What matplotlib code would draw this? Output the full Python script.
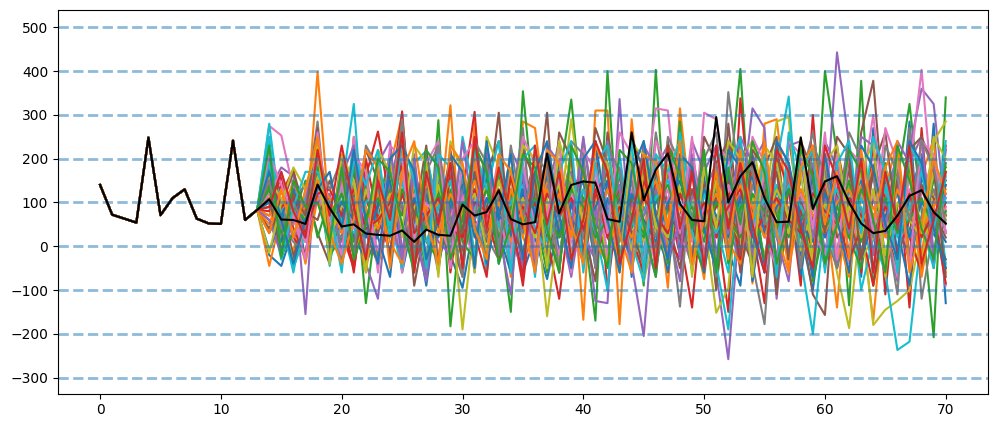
import matplotlib
matplotlib.use('Agg')
import matplotlib.pyplot as plt

# observed history, months 0-13, shared by every simulated path
history = [140, 72, 63, 54, 248, 71, 110, 130, 63, 52, 51, 241, 60, 83]

# mean-ish reference path, months 14-70
reference = [107, 61, 60, 51, 141, 87,
             45, 50, 29, 26, 24, 36, 10, 38, 26, 24,
             95, 70, 78, 127, 62, 50, 55, 212, 75, 140,
             148, 145, 62, 56, 260, 105, 175, 212, 97, 60,
             57, 295, 100, 160, 192, 110, 55, 56, 248, 85,
             148, 160, 100, 52, 30, 35, 70, 115, 128, 78, 52]

# simulated paths, months 14-70
sim_00 = [-20, -45, 40, -30, 180, -15,
          60, 120, -40, 30, 150, -60, 70, -90, 110, -20,
          -95, 60, 180, -40, 130, -60, 20, -75, 60, 210,
          -30, 90, -20, 170, -70, 240, 30, -40, 120, 60,
          -55, 160, -10, -90, 210, 80, -60, 150, 30, -100,
          120, -30, 200, -70, 270, 90, -20, 285, -60, 280, -130]
sim_01 = [-45, 70, 150, 30, 398, 60,
          -25, 250, 90, -40, 180, 300, -10, 110, 40, 322,
          -60, 280, 30, 120, -70, 285, 270, 60, -50, 190,
          -168, 310, 310, -178, 290, 20, 140, -95, 315, 60,
          -75, 190, 20, 230, -85, 280, 290, 70, -10, 150,
          90, -140, 200, 60, -170, 130, 240, -20, 160, 245, -60]
sim_02 = [240, -10, 110, -30, 220, 40,
          -35, 170, -130, 90, 210, -50, 130, -70, 288, -183,
          100, -30, 230, 60, -150, 354, 70, -60, 150, 335,
          60, -170, 400, -30, 120, -90, 403, -30, 285, -60,
          140, -90, 120, 405, -20, 180, -90, 60, 230, -40,
          400, 210, -135, 378, -90, 60, 150, 325, 80, -208, 340]
sim_03 = [190, 120, 175, 40, 140, -20,
          90, -60, 160, 262, 100, 308, -40, 60, 200, -60,
          120, 307, -50, 180, 70, -90, 160, 20, -120, 110,
          -40, 240, -100, 130, 60, 230, -60, 180, 20, -140,
          150, 60, -150, 338, 40, -130, 210, 130, -90, 300,
          -40, 225, 90, -60, 240, -110, 180, -140, 270, -50, 230]
sim_04 = [130, 180, 160, -155, 250, 60,
          10, 190, -40, -120, 160, 240, 30, -80, 170, -30,
          150, -60, 220, 30, -110, 180, -30, 140, 60, -70,
          100, -125, -130, 336, -40, -205, 130, 50, -80, 210,
          70, -60, -258, 80, 315, 270, -120, 160, -40, 190,
          60, 443, 230, -30, 180, 40, -80, 220, 360, 325, 70]
sim_05 = [180, 60, -20, 130, 30, -40,
          195, 100, -50, 170, 40, 210, -90, 60, 150, 20,
          -70, 200, 80, 305, -30, 130, 60, 305, -60, 190,
          40, -80, 260, 100, -60, 220, -20, 240, 90, -50,
          170, -100, 280, 30, -40, 150, -110, 250, 60, -110,
          -157, 230, -30, 260, 378, 40, -50, 120, -60, 210, 30]
sim_06 = [275, 253, 130, 30, 190, 70,
          -45, 250, 110, 30, 180, -60, 120, 40, 210, 20,
          70, -50, 190, 100, 30, 250, -20, 170, 200, 20,
          30, -30, 140, 80, -60, 120, 315, 310, 40, -30,
          305, 290, 90, -40, 180, -60, 40, 190, -20, 150,
          80, 210, -30, 120, 300, 40, -70, 170, 403, 90, -90]
sim_07 = [210, 20, -30, 90, 285, 10,
          205, 140, 60, -20, 100, 180, -50, 70, -60, 190,
          20, 220, -30, 180, 80, 270, -60, 120, 240, -30,
          245, 70, -40, 170, 30, -20, 260, 90, -138, 190,
          80, -70, 352, 130, -40, -178, 210, 40, 150, 260,
          90, -50, 190, -20, 130, 60, -110, 270, -120, 40, 140]
sim_08 = [160, -5, 90, 20, 255, -30,
          130, 40, 190, -50, 90, 280, -20, 140, 60, 110,
          -190, 70, 240, -30, 180, 20, 120, -160, 60, 290,
          90, -30, 230, 60, 170, -80, 40, -10, 180, -50,
          60, -152, -95, 200, 240, 90, 285, 295, -20, 70,
          90, -60, -187, 70, -180, -145, -125, -100, 30, 240, 285]
sim_09 = [280, 60, -60, 90, 210, -45,
          130, 325, -30, 170, 60, -50, 190, 218, 60, -20,
          250, 120, -60, 170, 30, 160, -70, 200, 100, -20,
          80, 40, -100, 210, 10, -80, 120, -30, 260, 90,
          20, -40, -190, 110, 180, -60, 190, 342, -30, -200,
          60, -40, 140, -100, 20, -60, -237, -218, 30, 170, -40]
sim_10 = [60, 10, 130, -35, 170, 40,
          -40, 90, 150, 20, -70, 180, 60, -20, 130, 50,
          100, -40, 160, 30, -60, 120, 70, 215, -20, 90,
          150, -50, 110, 40, -30, 190, 70, -60, 130, 20,
          170, -20, 60, 240, -80, 100, 30, 150, -65, 120,
          210, -50, 70, 130, -20, 180, 40, -90, 160, 60, 10]
sim_11 = [120, 40, -10, 110, 200, -20,
          150, 70, -60, 130, 40, 220, 10, 90, -30, 160,
          60, 190, -20, 80, 150, 20, -40, 130, 70, 200,
          -10, 110, 170, -50, 90, 30, 210, -20, 120, 60,
          -30, 140, 80, 190, -60, 120, 30, 170, -40, 90,
          140, 30, -70, 110, 180, -50, 60, 130, -20, 170, 80]
sim_12 = [100, -30, 70, 150, 20, 110,
          -20, 60, 140, -40, 120, 30, 180, -50, 90, 150,
          10, -30, 200, 70, 120, -20, 150, 40, 180, -40,
          110, 60, -20, 170, 40, 130, -50, 90, 210, 20,
          -60, 150, 60, 110, -30, 200, 70, 20, 130, -80,
          50, 160, 20, -50, 120, 190, -30, 90, 40, 150, 180]
sim_13 = [70, 140, 20, -20, 160, 90,
          30, -50, 120, 60, 190, -10, 100, 160, -40, 80,
          140, 30, -70, 210, 20, 90, 170, -30, 110, 60,
          200, -40, 80, 130, 20, -60, 160, 100, -20, 180,
          30, 90, 150, -50, 110, 40, 200, -30, 120, 70,
          -20, 130, 190, 40, -90, 100, 160, 20, -60, 120, 150]
sim_14 = [150, 30, 90, 10, 220, -10,
          80, 20, 170, -30, 60, 130, 20, -60, 150, 90,
          -30, 120, 60, 190, 10, -50, 100, 170, 30, -20,
          130, 70, 190, -40, 100, 30, -70, 180, 60, 120,
          -20, 170, 50, -40, 140, 90, 20, -80, 200, 30,
          110, -40, 70, 180, 20, -30, 140, 60, 210, -10, 60]
sim_15 = [40, 110, -25, 60, 130, 20,
          100, 170, 30, -40, 80, 200, -20, 120, 50, -30,
          160, 60, 10, 130, -50, 90, 200, 30, -20, 140,
          70, 180, 20, -30, 110, 160, -10, 60, -50, 130,
          90, 20, 170, -60, 80, 130, -30, 180, 40, 100,
          -50, 110, 170, 20, 70, -60, 150, 30, 190, 80, 20]
sim_16 = [90, -10, 50, 120, 230, 30,
          -10, 110, 60, 150, -30, 90, 30, 170, -20, 70,
          120, -10, 60, 190, 40, 110, -40, 70, 150, 10,
          -30, 130, 80, 20, 190, -20, 60, 130, 30, -40,
          180, 50, 100, -20, 150, 30, -50, 170, 90, 10,
          140, 60, -40, 120, 30, 170, 80, -40, 120, 200, 110]
sim_17 = [200, 50, 10, -15, 120, 60,
          -30, 150, 30, 90, 170, 40, -40, 100, 180, -10,
          90, 150, 20, -30, 110, 60, 170, -20, 40, 120,
          180, -10, 70, 140, -30, 90, 20, 170, 60, -50,
          120, 190, 30, 60, -40, 140, 90, -20, 110, 170,
          30, -50, 110, 70, 160, -20, 40, 120, 90, -30, 170]
sim_18 = [110, 80, -40, 40, 190, 10,
          60, -20, 130, 40, 200, 20, 90, -40, 170, 30,
          -20, 80, 140, 30, 160, -30, 60, 110, -40, 180,
          50, 120, -30, 90, 200, 10, 60, -40, 150, 110,
          20, -40, 130, 180, 60, -20, 110, 30, 170, -60,
          100, 40, 150, -30, 20, 180, 60, 110, -40, 130, 90]
sim_19 = [230, 90, -50, 30, 150, -30,
          50, 230, -10, 80, 30, 150, -30, 200, 90, 20,
          160, -20, 110, 50, -40, 170, 90, 10, 130, 60,
          -30, 190, 40, 110, -50, 70, 160, 20, 100, -20,
          130, 50, -60, 170, 90, 20, 140, -30, 60, 110,
          -40, 170, 30, 90, -60, 130, 200, 20, 50, -50, 160]
sim_20 = [-10, 60, 110, 10, 140, 70,
          120, 20, -30, 100, 170, -20, 60, 130, -50, 110,
          40, 160, -40, 90, 20, 150, 70, -30, 190, 30,
          100, -20, 150, 60, -30, 120, 40, 180, -10, 90,
          -60, 120, 170, 40, 90, -40, 130, 60, -20, 160,
          20, 90, 230, -30, 60, 150, -10, 110, 210, 30, -30]
sim_21 = [50, 130, 90, -40, 110, 30,
          170, -30, 70, 120, 10, -40, 150, 60, 100, -30,
          80, 210, 40, -10, 130, 50, -20, 160, 90, 30,
          170, 10, -40, 120, 70, 150, -20, 60, 190, -30,
          80, 140, 10, -40, 170, 60, 110, -50, 90, 40,
          180, -30, 70, 140, -20, 90, 50, 170, -70, 90, 130]
sim_22 = [140, -20, 30, 70, 240, -20,
          20, 180, 60, -20, 130, 70, 160, 10, -30, 130,
          -40, 100, 50, 170, -20, 80, 130, 30, -50, 160,
          110, 40, 180, -30, 60, 20, 130, -40, 190, 70,
          10, 170, -40, 90, 120, -30, 50, 190, 20, 110,
          -30, 60, 150, 10, 120, -40, 90, 180, 30, 60, -50]
sim_23 = [80, 160, 40, -20, 170, 100,
          40, -40, 200, 60, -10, 120, 30, 90, -40, 170,
          20, 130, 70, -30, 160, 40, 100, -20, 130, 60,
          -40, 120, 170, 30, -10, 150, 80, 20, -30, 170,
          70, 20, 120, -30, 200, 50, -40, 130, 80, -10,
          150, 70, -30, 40, 170, 110, -20, 60, 140, 30, 100]
sim_24 = [170, 100, 20, 60, 100, 120,
          -10, 70, 20, 140, 60, -30, 170, 80, 10, -20,
          130, 60, 170, 20, 90, -40, 150, 50, 110, 170,
          20, -30, 90, 180, 30, 70, 130, -30, 60, 110,
          190, -10, 50, 120, -20, 160, 30, 90, 50, 140,
          -10, 110, 40, 170, -20, 100, 50, -30, 180, 60, 120]
sim_25 = [30, 90, 170, 80, 60, 150,
          70, -20, 110, 30, 160, 90, -40, 40, 120, 60,
          -10, 170, 30, 110, 50, -20, 120, 190, 20, 70,
          -30, 150, 60, 110, 30, -40, 170, 90, 20, 130,
          50, 110, -20, 160, 30, 80, 170, -30, 100, 60,
          130, 20, 60, -30, 110, 170, 40, -20, 140, 110, 70]
sim_26 = [120, 170, 60, 10, 130, 40,
          140, 40, 80, -10, 110, 170, 20, 100, 60, -20,
          110, 30, 130, 70, -30, 190, 40, 90, -20, 120,
          70, 170, -20, 40, 130, 60, -40, 110, 170, 10,
          90, -30, 140, 60, 20, 170, -30, 80, 120, 30,
          -20, 150, 70, 30, 120, -40, 60, 130, 50, -20, 90]
sim_27 = [90, 50, 110, 140, 200, 50,
          20, 110, 50, 170, 30, 100, -20, 130, 70, 10,
          150, 50, -20, 120, 90, 30, 140, -30, 60, 150,
          20, 90, 130, 10, 150, -20, 80, 50, 110, 170,
          -20, 60, 110, 30, 140, 70, -30, 170, 40, 100,
          60, -10, 130, 80, 20, 110, 160, -20, 70, 130, 30]
sim_28 = [150, 110, 30, 70, 160, 20,
          90, 150, -10, 60, 120, 30, 80, -20, 140, 40,
          70, 120, -10, 150, 60, 110, 20, 90, 140, -20,
          60, 130, 30, 90, -10, 170, 60, 20, 130, 80,
          30, 150, 70, 10, 110, 50, 130, 70, -10, 90,
          160, 40, 90, 20, 130, -20, 100, 60, 20, 170, 60]
sim_29 = [190, 30, 80, 110, 180, 90,
          60, 30, 100, 130, 50, 200, 40, 10, 90, 150,
          30, 90, 170, 10, 100, 140, 40, -10, 100, 70,
          130, 20, 70, 170, 60, -10, 110, 150, 40, 70,
          120, 30, 90, 160, 50, 110, 20, 140, 90, 30,
          80, 130, 30, 110, 60, 140, 20, 90, 170, 40, 110]
sim_30 = [100, 70, 130, 40, 210, 50,
          100, 60, 20, 90, 150, 40, 110, 60, 20, 90,
          140, 20, 110, 70, 40, 130, 80, 160, 30, 100,
          40, 90, 150, 30, 120, 60, 10, 100, 150, 40,
          130, 70, 20, 110, 160, 30, 90, 130, 50, 10,
          120, 60, 100, 150, 30, 70, 120, 20, 100, 60, 140]
sim_31 = [70, 130, 50, 90, 150, 110,
          30, 130, 80, 40, 110, 170, 60, 90, 30, 120,
          60, 150, 40, 100, 10, 90, 140, 50, 120, 20,
          100, 50, 130, 80, 20, 100, 150, 40, 90, 20,
          70, 120, 50, 140, 90, 20, 110, 60, 130, 70,
          30, 100, 130, 60, 90, 20, 130, 70, 40, 90, 170]
sim_32 = [130, 30, 90, 60, 180, 70,
          120, 10, 70, 110, 30, 130, 80, 40, 120, 60,
          100, 60, 130, 20, 90, 50, 110, 70, 20, 130,
          90, 20, 60, 120, 70, 30, 100, 140, 60, 90,
          30, 100, 60, 20, 120, 80, 40, 130, 60, 100,
          40, 90, 20, 130, 70, 110, 30, 60, 110, 40, 80]
sim_33 = [150, 90, 110, 30, 120, 130,
          70, 130, 40, 60, 100, 190, 30, 70, 110, 40,
          20, 100, 80, 130, 50, 90, 30, 120, 70, 110,
          40, 130, 20, 90, 60, 110, 70, 30, 120, 50,
          100, 40, 90, 130, 20, 70, 110, 60, 30, 120,
          80, 50, 110, 70, 30, 90, 50, 120, 20, 80, -85]
sim_34 = [60, -20, 60, 100, 240, 30,
          160, 230, -30, 190, 240, -20, 210, -40, 230, 20,
          240, 60, 230, -20, 220, 160, -50, 230, 190, 40,
          250, 30, 240, 130, -40, 230, 180, 230, -30, 240,
          170, 230, 30, 250, 190, 240, -40, 230, 240, 20,
          240, 180, 30, 250, 230, 30, 240, 190, 250, -30, 220]
sim_35 = [110, -15, 120, 70, 270, -5,
          190, 60, 220, 150, -30, 260, 60, 230, -50, 220,
          30, 230, 170, 240, 40, 220, 150, -30, 260, 200,
          -20, 270, 190, 30, 250, 170, 40, 230, 180, -40,
          250, 190, 240, -20, 220, 180, 250, -30, 240, 170,
          30, 250, 210, -30, 180, 260, 40, 220, 250, 180, -70]
sim_36 = [210, 140, 70, -30, 260, 60,
          -20, 210, 170, -60, 230, 200, -40, 190, 240, -50,
          200, 240, 40, 210, -30, 250, 190, 60, 240, -60,
          220, 170, 30, 260, 210, -50, 240, 180, 30, 250,
          -50, 230, 200, 30, 250, 190, -60, 240, 210, 40,
          260, -30, 220, 190, 30, 270, 190, -50, 240, 210, 30]
sim_37 = [150, 40, 100, 40, 200, 130,
          200, -20, 230, 180, 60, 290, -30, 170, 230, 60,
          -70, 240, 190, -10, 230, 60, 210, 170, -60, 240,
          210, -50, 230, 170, 50, 220, -40, 250, 190, 60,
          200, 260, -20, 230, 170, 50, 240, 190, -50, 230,
          170, 50, 260, 200, -60, 230, 170, 60, 240, 180, 50]
sim_38 = [-15, 100, 180, 130, 230, -40,
          210, 150, -60, 220, 170, 40, 230, 190, -70, 240,
          170, -60, 250, 180, 60, 230, 200, -50, 240, 150,
          60, 220, 190, -60, 230, 210, 40, 180, 240, -70,
          180, 40, 240, 200, -70, 230, 190, 60, 250, -30,
          190, 230, 50, 170, 240, -70, 210, 190, 30, 250, 200]
sim_39 = [250, -30, 90, 170, 170, 90,
          -60, 200, 140, 220, 20, 240, 150, -50, 210, 180,
          -40, 220, 130, 240, -60, 200, 230, 30, 170, 240,
          -60, 190, 230, 40, 240, -60, 210, 170, 240, 30,
          -40, 220, 170, 250, 40, 210, -70, 260, 170, 220,
          -60, 190, 240, 30, 250, 170, -60, 230, 180, 30, 240]
sim_40 = [170, 60, -40, 60, 130, 170,
          40, 220, 60, -40, 200, 230, 170, -30, 60, 210,
          170, -50, 240, 60, 210, -30, 170, 240, 70, -50,
          200, 240, 60, -60, 170, 240, 70, -30, 210, 180,
          40, -50, 220, 180, 30, -60, 240, 190, 60, -70,
          210, 60, -60, 230, 180, 50, -30, 240, 190, 40, -50]
sim_41 = [30, 130, 20, 130, 250, 30,
          -40, 60, 220, 180, -50, 170, 240, 60, -40, 230,
          190, 40, -30, 210, 170, 60, -60, 220, 190, 50,
          -40, 230, 170, 30, -60, 210, 190, 40, 240, -40,
          60, 170, -30, 220, 60, 240, 30, -60, 180, 230,
          50, 170, -30, 220, 60, 180, 240, -60, 50, 200, 120]
sim_42 = [230, -25, 150, 90, 100, 10,
          180, -30, 50, 200, 170, 50, -60, 220, 180, -30,
          60, 230, 170, -40, 50, 210, 180, 40, -60, 230,
          170, 40, -50, 220, 190, 50, -70, 230, 160, 40,
          220, -60, 180, 50, 240, 170, -40, 60, 220, 160,
          -40, 50, 220, 170, 60, -60, 230, 150, 40, -30, 190]
sim_43 = [90, 170, 80, 20, 220, 70,
          230, 90, -30, 150, 60, 260, -60, 170, 50, 190,
          -50, 250, 40, 180, 60, -70, 230, 50, 170, -30,
          60, 240, 170, -40, 60, 200, -50, 230, 40, 170,
          -50, 230, 40, 190, 50, -60, 220, 170, 40, -50,
          230, 150, 40, 200, -60, 170, 50, 230, -40, 60, 170]

sim_paths = [sim_00, sim_01, sim_02, sim_03, sim_04, sim_05, sim_06, sim_07,
             sim_08, sim_09, sim_10, sim_11, sim_12, sim_13, sim_14, sim_15,
             sim_16, sim_17, sim_18, sim_19, sim_20, sim_21, sim_22, sim_23,
             sim_24, sim_25, sim_26, sim_27, sim_28, sim_29, sim_30, sim_31,
             sim_32, sim_33, sim_34, sim_35, sim_36, sim_37, sim_38, sim_39,
             sim_40, sim_41, sim_42, sim_43]

levels = [-300, -200, -100, 0, 100, 200, 300, 400, 500]

fig, ax = plt.subplots(figsize=(9.97, 4.28), dpi=100)
months = list(range(len(history) + len(reference)))

for path in sim_paths:
    ax.plot(months, history + path)

for level in levels:
    ax.axhline(level, ls='--', lw=2, alpha=0.5)

ax.plot(months, history + reference, color='black')

ax.set_xlim(-3.5, 73.5)
ax.set_ylim(-337, 540)
ax.set_yticks(levels)
fig.subplots_adjust(left=0.058, right=0.991, top=0.977, bottom=0.08)
fig.savefig('out.png', dpi=100)
